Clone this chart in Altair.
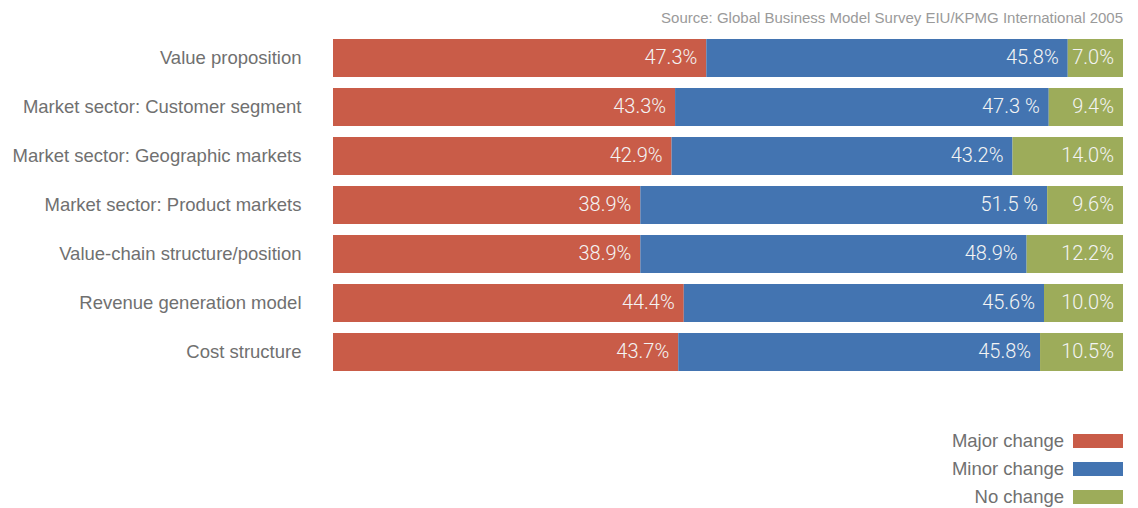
import altair as alt
import pandas as pd

categories = [
    "Value proposition",
    "Market sector: Customer segment",
    "Market sector: Geographic markets",
    "Market sector: Product markets",
    "Value-chain structure/position",
    "Revenue generation model",
    "Cost structure",
]
series = ["Major change", "Minor change", "No change"]
major = [47.3, 43.3, 42.9, 38.9, 38.9, 44.4, 43.7]
minor = [45.8, 47.3, 43.2, 51.5, 48.9, 45.6, 45.8]
nochange = [7.0, 9.4, 14.0, 9.6, 12.2, 10.0, 10.5]
major_lbl = ["47.3%", "43.3%", "42.9%", "38.9%", "38.9%", "44.4%", "43.7%"]
minor_lbl = ["45.8%", "47.3 %", "43.2%", "51.5 %", "48.9%", "45.6%", "45.8%"]
none_lbl = ["7.0%", "9.4%", "14.0%", "9.6%", "12.2%", "10.0%", "10.5%"]
colors = ["#C95C48", "#4374B1", "#9DAC5A"]

rows = []
for i, c in enumerate(categories):
    for k, (vals, lbls) in enumerate([(major, major_lbl), (minor, minor_lbl), (nochange, none_lbl)]):
        rows.append({"cat": c, "series": series[k], "order": k, "value": vals[i], "label": lbls[i]})
df = pd.DataFrame(rows)

FONT = "Liberation Sans, Arial, sans-serif"
NUMFONT = "Roboto, Liberation Sans, sans-serif"

base = alt.Chart(df).transform_stack(
    stack="value", groupby=["cat"], as_=["x0", "x1"],
    sort=[alt.SortField("order", order="ascending")], offset="normalize"
)

y_enc = alt.Y(
    "cat:N", sort=categories, title=None,
    scale=alt.Scale(paddingInner=0.224, paddingOuter=0.112),
    axis=alt.Axis(domain=False, ticks=False, labelPadding=32, labelFontSize=18.5,
                  labelFont=FONT, labelColor="#707070", labelLimit=400),
)

bars = base.mark_bar().encode(
    x=alt.X("x0:Q", scale=alt.Scale(domain=[0, 1], nice=False), axis=None),
    x2="x1:Q",
    y=y_enc,
    color=alt.Color(
        "series:N", sort=series,
        scale=alt.Scale(domain=series, range=colors),
        legend=alt.Legend(
            title=None, orient="none", legendX=755, legendY=397.5,
            direction="vertical", padding=0,
            symbolType="M-2.5,-0.7H2.5V0.7H-2.5Z", symbolSize=400,
            symbolStrokeWidth=0, symbolOpacity=1,
            labelAlign="right", labelOffset={"expr": "-44"}, labelFontSize=18.5,
            labelFont=FONT, labelColor="#707070", rowPadding=8, labelLimit=300,
        ),
    ),
    order=alt.Order("order:Q"),
)

texts = base.mark_text(
    align="right", baseline="middle", dx=-9, fontSize=20, font=NUMFONT,
    fontWeight=300, color="#F4F4F4"
).encode(
    x=alt.X("x1:Q"),
    y=alt.Y("cat:N", sort=categories),
    text="label:N",
)

chart = alt.layer(bars, texts).properties(
    width=790, height=343,
    autosize=alt.AutoSizeParams(type="none"),
    padding={"left": 325, "top": 25.5, "right": 7, "bottom": 150},
    title=alt.TitleParams(
        "Source: Global Business Model Survey EIU/KPMG International 2005",
        anchor="end", fontSize=15, font=FONT, fontWeight="normal", color="#9a9a9a", offset=8,
    ),
).configure_view(stroke=None)

chart.save("out.html", embed_options={"renderer": "svg", "actions": False})
